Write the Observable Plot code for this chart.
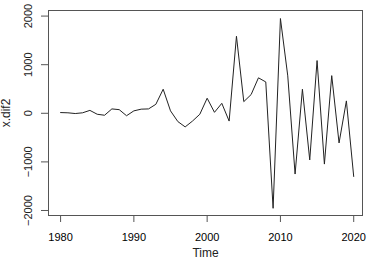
<!DOCTYPE html>
<html>
<head>
<meta charset="utf-8">
<script src="https://cdn.jsdelivr.net/npm/d3@7"></script>
<script src="https://cdn.jsdelivr.net/npm/@observablehq/plot@0.6"></script>
<style>
html, body { margin: 0; padding: 0; background: #fff; }
</style>
</head>
<body>
<div id="chart"></div>
<script>
const years = d3.range(1980, 2021);
const values = [15, 10, -5, 10, 60, -20, -40, 90, 75, -50,
  50, 85, 90, 185, 495, 50, -170, -280, -160, -20,
  310, 20, 205, -160, 1585, 240, 385, 730, 645, -1955,
  1950, 770, -1250, 495, -960, 1085, -1045, 775, -610, 255,
  -1300];
const xTicks = [1980, 1990, 2000, 2010, 2020];
const yTicks = [-2000, -1000, 0, 1000, 2000];

const data = years.map((t, i) => ({time: t, value: values[i]}));

const font = "'Liberation Sans', Arial, Helvetica, sans-serif";

const chart = Plot.plot({
  width: 367,
  height: 260,
  marginLeft: 48,
  marginRight: 5,
  marginTop: 10,
  marginBottom: 45,
  style: {fontFamily: font, fontSize: "11px", background: "#fff", color: "#000", overflow: "visible"},
  x: {domain: [1978.35, 2021.2]},
  y: {domain: [-2103, 2115]},
  marks: [
    Plot.frame({stroke: "#555", strokeWidth: 1}),
    Plot.line(data, {x: "time", y: "value", stroke: "#222", strokeWidth: 1}),
    Plot.axisX({ticks: xTicks, tickSize: 7, tickPadding: 11, tickFormat: d => String(d), label: null, stroke: "#555", fontSize: 11}),
    Plot.axisY({ticks: yTicks, tickSize: 7, tickFormat: null, text: null, label: null, stroke: "#555"}),
    Plot.text(yTicks, {y: d => d, frameAnchor: "left", textAnchor: "middle", lineAnchor: "middle", dx: -20, rotate: -90, text: d => d < 0 ? "\u2212" + Math.abs(d) : String(d), fontSize: 11, fill: "#222"}),
    Plot.text(["Time"], {frameAnchor: "bottom", textAnchor: "middle", lineAnchor: "middle", dy: 38, text: d => d, fontSize: 12, fill: "#222"}),
    Plot.text(["x.dif2"], {frameAnchor: "left", textAnchor: "middle", lineAnchor: "middle", dx: -42, rotate: -90, text: d => d, fontSize: 12, fill: "#222"})
  ]
});
document.getElementById("chart").appendChild(chart);
</script>
</body>
</html>
